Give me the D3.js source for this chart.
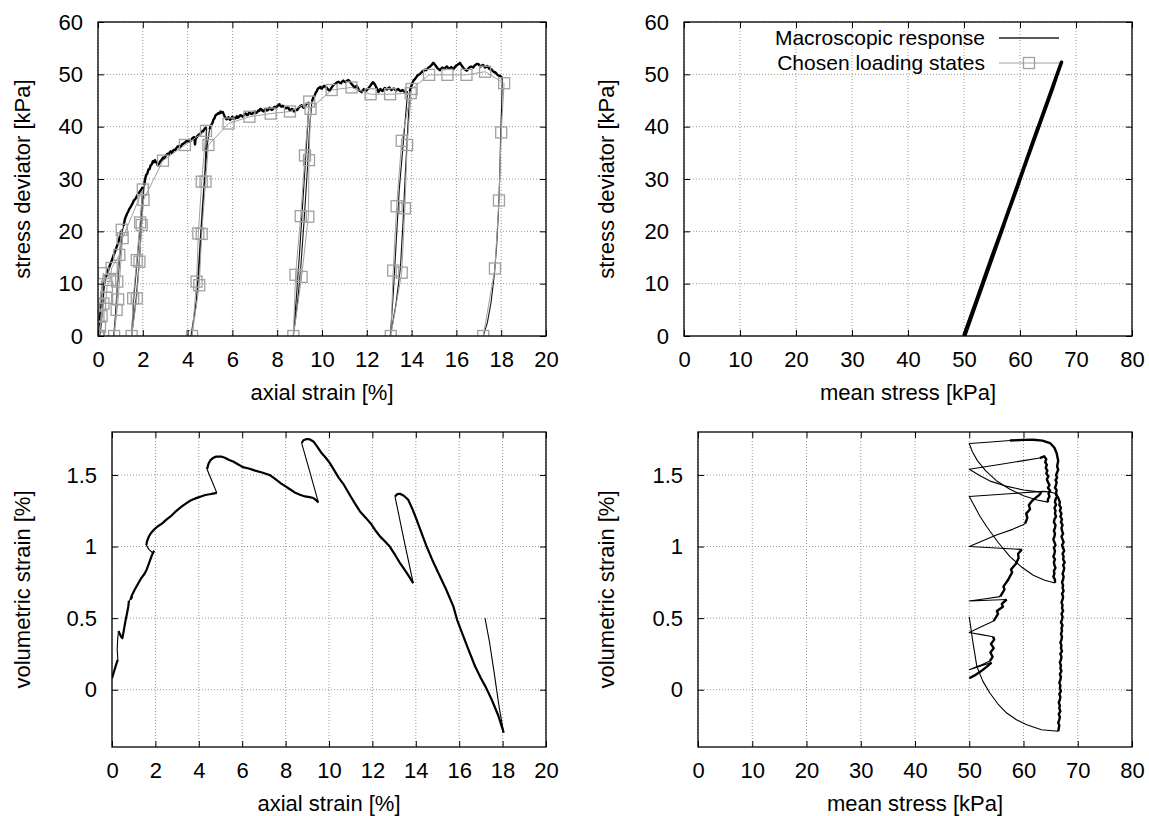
<!DOCTYPE html>
<html>
<head>
<meta charset="utf-8">
<script src="https://cdn.jsdelivr.net/npm/d3@7"></script>
<style>
    body { margin: 0; background: #fff; }
    svg { font-family: "Liberation Sans", Arial, Helvetica, sans-serif; }
</style>
</head>
<body>
<div id="chart"></div>
<script>
// tick values
const strainTicks = [0, 2, 4, 6, 8, 10, 12, 14, 16, 18, 20]
const qTicks = [0, 10, 20, 30, 40, 50, 60]
const pTicks = [0, 10, 20, 30, 40, 50, 60, 70, 80]
const volTicks = [0, 0.5, 1, 1.5]

const legendLabels = ["Macroscopic response", "Chosen loading states"]

// stress deviator [kPa] vs axial strain [%]: loading branches (noisy) and unload/reload cycles
const qStrainLoading = [
    [[0,0],[0.03,2],[0.08,4.5],[0.16,7.5],[0.24,9.6],[0.3,10.6]],
    [[0.36,11.3],[0.42,12.2],[0.48,12.9],[0.54,13.6],[0.6,14.3],[0.65,14.8],[0.7,15.5],[0.76,16.1],[0.82,16.9],[0.88,17.6],[0.94,18.4],[0.98,19.0],[1.04,19.9],[1.08,20.3]],
    [[1.14,21.0],[1.2,22.3],[1.25,22.9],[1.3,23.4],[1.35,23.8],[1.4,24.3],[1.45,24.6],[1.5,25.0],[1.55,25.4],[1.6,25.9],[1.65,26.1],[1.7,26.4],[1.75,26.9],[1.8,27.1],[1.85,27.5],[1.9,27.8],[1.95,28.1],[2.0,28.5]],
    [[2.06,28.8],[2.1,29.9],[2.15,30.8],[2.2,31.0],[2.25,31.8],[2.3,31.9],[2.35,32.6],[2.4,32.8],[2.45,33.4],[2.5,33.2],[2.54,33.6],[2.58,33.3],[2.62,33.1],[2.67,32.6],[2.72,32.9],[2.76,33.2],[2.8,33.5],[2.85,33.7],[2.9,34.1],[2.95,33.9],[3.0,34.3],[3.05,34.6],[3.1,34.8],[3.15,34.6],[3.2,35.1],[3.25,35.3],[3.3,35.0],[3.35,35.4],[3.4,35.6],[3.45,35.5],[3.5,35.9],[3.55,36.2],[3.6,36.3],[3.65,36.0],[3.7,36.2],[3.75,36.6],[3.8,36.7],[3.85,36.9],[3.9,37.0],[3.95,37.3],[4.0,37.2],[4.05,37.5],[4.1,37.1],[4.15,37.4],[4.2,37.7],[4.25,37.9],[4.3,38.0],[4.33,36.6],[4.36,37.8],[4.4,37.9],[4.45,38.3],[4.5,38.5],[4.55,38.4],[4.6,38.9],[4.65,39.1],[4.7,39.2],[4.75,39.5],[4.8,39.8],[4.85,39.6]],
    [[4.98,39.5],[5.05,40.3],[5.1,40.6],[5.15,41.3],[5.2,41.6],[5.25,42.2],[5.3,42.3],[5.37,42.6],[5.42,42.5],[5.47,42.9],[5.52,42.7],[5.57,42.8],[5.62,42.3],[5.65,42.0],[5.7,41.6],[5.75,41.4],[5.82,41.8],[5.9,41.3],[5.95,41.6],[6.0,41.9],[6.05,41.5],[6.1,41.7],[6.15,41.6],[6.2,42.0],[6.25,41.7],[6.3,41.9],[6.35,42.2],[6.4,42.1],[6.45,41.9],[6.5,42.1],[6.55,42.4],[6.6,42.5],[6.65,42.2],[6.7,42.3],[6.75,42.7],[6.8,42.6],[6.85,42.4],[6.9,42.5],[6.95,42.8],[7.0,42.9],[7.05,42.6],[7.1,42.7],[7.15,43.1],[7.2,43.0],[7.25,43.4],[7.3,43.3],[7.35,43.0],[7.4,42.9],[7.45,43.3],[7.5,43.4],[7.55,43.1],[7.6,43.2],[7.65,43.6],[7.7,43.5],[7.75,43.2],[7.8,43.3],[7.85,43.7],[7.9,43.8],[7.95,43.6],[8.0,43.9],[8.05,44.1],[8.1,44.3],[8.15,43.9],[8.2,43.8],[8.25,44.0],[8.3,43.9],[8.35,43.6],[8.4,43.5],[8.45,43.7],[8.5,43.6],[8.55,43.2],[8.6,43.1],[8.65,43.4],[8.7,43.3],[8.75,42.9],[8.8,43.0],[8.85,43.3],[8.9,43.2],[8.95,43.6],[9.0,43.8],[9.05,44.0],[9.1,44.1],[9.15,43.7],[9.2,43.6],[9.25,44.0],[9.3,44.3],[9.36,44.5],[9.42,44.6]],
    [[9.55,44.8],[9.62,45.7],[9.67,45.9],[9.72,46.5],[9.77,46.8],[9.82,47.3],[9.87,47.4],[9.92,47.6],[9.96,47.3],[10.0,47.3],[10.05,47.6],[10.1,47.8],[10.15,47.6],[10.2,47.5],[10.25,47.2],[10.3,47.0],[10.36,46.9],[10.4,47.3],[10.45,47.6],[10.5,47.9],[10.55,48.1],[10.6,48.2],[10.65,48.4],[10.7,48.5],[10.73,48.6],[10.8,48.4],[10.85,48.3],[10.9,48.6],[10.95,48.8],[11.0,48.6],[11.05,48.5],[11.1,48.7],[11.18,48.9],[11.23,48.7],[11.28,48.4],[11.33,48.1],[11.38,47.9],[11.42,47.6],[11.47,47.4],[11.51,47.7],[11.55,47.8],[11.6,47.4],[11.65,47.0],[11.7,46.8],[11.77,46.6],[11.82,46.9],[11.87,47.2],[11.92,47.0],[11.97,46.9],[12.02,47.1],[12.07,47.3],[12.12,47.6],[12.17,47.9],[12.22,48.2],[12.27,48.5],[12.32,48.3],[12.37,48.0],[12.41,47.6],[12.45,47.3],[12.49,46.9],[12.52,46.6],[12.56,46.9],[12.6,47.2],[12.65,47.0],[12.7,46.8],[12.75,47.1],[12.8,47.4],[12.85,47.2],[12.9,47.1],[12.95,47.3],[13.0,47.5],[13.05,47.2],[13.1,47.0],[13.15,47.2],[13.2,47.3],[13.25,47.1],[13.3,46.9],[13.35,47.1],[13.4,47.2],[13.45,47.0],[13.5,46.8],[13.55,46.9],[13.6,47.0],[13.65,46.8],[13.7,46.6],[13.76,46.7],[13.82,46.5]],
    [[13.92,46.8],[13.96,47.4],[14.0,47.9],[14.05,48.5],[14.1,48.9],[14.15,49.1],[14.2,49.4],[14.25,49.7],[14.3,49.9],[14.35,50.0],[14.4,50.2],[14.45,50.4],[14.5,50.6],[14.55,50.7],[14.6,50.9],[14.65,50.8],[14.7,51.0],[14.75,51.3],[14.8,51.4],[14.85,51.6],[14.9,51.8],[14.93,52.0],[14.97,52.2],[15.01,52.0],[15.05,51.8],[15.1,51.5],[15.15,51.2],[15.2,51.0],[15.27,50.8],[15.32,51.1],[15.37,51.3],[15.42,51.2],[15.47,51.0],[15.52,51.3],[15.57,51.5],[15.62,51.3],[15.67,51.1],[15.72,51.2],[15.77,51.4],[15.82,51.2],[15.87,51.0],[15.92,51.3],[15.97,51.6],[16.02,51.7],[16.07,51.9],[16.12,52.0],[16.16,52.2],[16.2,51.9],[16.25,51.6],[16.3,51.3],[16.35,51.0],[16.4,50.9],[16.46,50.7],[16.5,50.9],[16.55,51.2],[16.6,51.4],[16.65,51.5],[16.7,51.4],[16.75,51.3],[16.8,51.6],[16.88,51.9],[16.93,52.0],[16.98,52.0],[17.03,51.7],[17.08,51.5],[17.13,51.6],[17.18,51.8],[17.23,51.6],[17.28,51.3],[17.33,51.4],[17.38,51.6],[17.43,51.3],[17.48,51.0],[17.53,51.0],[17.58,50.9],[17.63,50.6],[17.68,50.4],[17.73,50.4],[17.78,50.2],[17.83,49.9],[17.88,49.8],[17.93,49.7],[17.98,49.6],[18.05,49.3]]
]
const qStrainCycles = [
    [[0.3,10.6],[0.22,6],[0.14,2],[0.08,0],[0.18,5],[0.28,9.5],[0.36,11.3]],
    [[1.08,20.3],[0.95,15],[0.85,9],[0.78,4],[0.7,0],[0.8,5],[0.88,10],[0.98,15.5],[1.1,20.3],[1.14,21.0]],
    [[2.0,28.5],[1.9,22],[1.75,14.5],[1.6,7.5],[1.5,0],[1.7,7],[1.84,14],[1.94,21],[2.02,26.5],[2.06,28.8]],
    [[4.85,39.6],[4.78,32],[4.65,24],[4.5,14],[4.4,7],[4.15,0],[4.35,5],[4.5,12],[4.62,20],[4.75,29],[4.88,36.5],[4.98,39.5]],
    [[9.42,44.6],[9.3,36],[9.15,26],[9.0,16],[8.85,7],[8.72,0],[8.9,6],[9.05,13],[9.2,22],[9.35,32],[9.45,40],[9.55,44.8]],
    [[13.82,46.5],[13.65,38],[13.45,28],[13.3,17],[13.18,8],[13.05,0],[13.3,6],[13.5,13],[13.62,22],[13.72,31],[13.82,39],[13.92,46.8]],
    [[18.05,49.3],[18.02,44],[17.98,38.9],[17.93,30],[17.88,24],[17.8,17.5],[17.7,12],[17.55,6.5],[17.38,2.5],[17.2,0]]
]

// chosen loading states (marked points)
const qStrainChosen = [
    [0,0],[0.02,3.7],[0.09,6],[0.24,12],[0.16,3.8],[0.09,1.8],[0.05,0],
    [0.24,6.2],[0.36,7.3],[0.4,9.4],[0.54,10.7],[0.61,13],[0.95,15.5],[1.06,20.3],
    [0.86,10.4],[0.83,5],[0.72,0],[0.9,7],[1.1,18.7],[2.0,28],
    [1.88,21.7],[1.73,14.5],[1.57,7.2],[1.5,0],
    [1.73,7.2],[1.85,14.2],[1.95,21.2],[2.03,26],[2.9,33.5],[3.88,36.5],[4.82,39.2],
    [4.63,29.5],[4.48,19.6],[4.4,10.4],[4.2,0],
    [4.52,9.7],[4.63,19.5],[4.8,29.5],[4.93,36.5],[5.83,40.6],[6.76,41.9],[7.71,42.5],[8.57,42.9],[9.43,44.8],
    [9.24,34.5],[9.05,22.9],[8.82,11.7],[8.72,0],
    [9.09,11.3],[9.39,22.8],[9.42,33.6],[9.49,43.4],[10.43,47],[11.32,47.5],[12.17,46.2],[13.04,46.2],[13.96,46.4],
    [13.56,37.3],[13.33,24.8],[13.18,12.5],[13.07,0],
    [13.56,12.1],[13.7,24.4],[13.8,36.5],[14.0,47.2],[14.78,49.9],[15.6,49.9],[16.45,49.9],[17.28,50.5],[18.13,48.3],
    [18.0,38.9],[17.9,25.9],[17.72,12.9],[17.2,0]
]

// stress deviator [kPa] vs mean stress [kPa]
const pqResponse = [
    [50,0],[51.5,4.6],[53,9],[54.3,13],[52.2,6.6],[50.1,0.2],[52,5.8],[54.4,13.1],[55.8,17.5],[57.1,21.2],
    [54,11.9],[50.2,0.3],[53,8.8],[56.5,19.4],[59.4,28.3],[55,15],[50,0],[55,15.2],[59.5,28.4],[61.5,34.6],
    [63.2,39.8],[57,21],[50.1,0.1],[56,18],[63.3,39.9],[64.6,43.9],[57,21],[50,0],[57,21.1],[64.7,44.2],
    [65.7,47.1],[58,24],[50,0],[58,24.1],[65.8,47.3],[66.6,49.9],[67.4,52.3],[66.5,49.6],[58,24],[50,0.1]
]

// volumetric strain [%] vs axial strain [%]
const volStrainLoading = [
    [[0,0.08],[0.08,0.12],[0.16,0.16],[0.22,0.19],[0.27,0.21]],
    [[0.3,0.41],[0.36,0.39],[0.42,0.37],[0.48,0.36],[0.55,0.42],[0.62,0.48],[0.7,0.54],[0.75,0.58],[0.78,0.62]],
    [[0.85,0.63],[0.92,0.66],[1.05,0.7],[1.2,0.74],[1.35,0.78],[1.5,0.81],[1.6,0.84],[1.72,0.89],[1.84,0.94],[1.94,0.97]],
    [[1.58,1.01],[1.62,1.04],[1.7,1.07],[1.78,1.09],[1.83,1.1],[1.95,1.12],[2.1,1.14],[2.3,1.16],[2.52,1.19],[2.7,1.21],[2.9,1.24],[3.05,1.26],[3.22,1.28],[3.4,1.3],[3.6,1.32],[3.75,1.33],[3.91,1.34],[4.1,1.35],[4.3,1.36],[4.5,1.365],[4.65,1.37],[4.83,1.375]],
    [[4.38,1.54],[4.45,1.58],[4.55,1.605],[4.65,1.618],[4.8,1.628],[5.03,1.629],[5.2,1.62],[5.4,1.605],[5.58,1.594],[5.8,1.575],[6.03,1.555],[6.3,1.545],[6.6,1.53],[6.95,1.515],[7.26,1.5],[7.5,1.475],[7.8,1.44],[8.0,1.42],[8.2,1.4],[8.45,1.375],[8.66,1.362],[8.9,1.35],[9.1,1.345],[9.28,1.339],[9.4,1.325],[9.51,1.308]],
    [[8.74,1.723],[8.82,1.742],[8.97,1.751],[9.12,1.748],[9.28,1.734],[9.45,1.7],[9.65,1.655],[9.85,1.62],[10.04,1.583],[10.25,1.53],[10.45,1.48],[10.65,1.44],[10.82,1.397],[11.0,1.35],[11.2,1.3],[11.43,1.245],[11.7,1.2],[11.97,1.152],[12.15,1.11],[12.35,1.071],[12.55,1.04],[12.8,1.0],[13.04,0.943],[13.25,0.89],[13.45,0.845],[13.65,0.8],[13.88,0.745]],
    [[13.04,1.35],[13.15,1.366],[13.27,1.369],[13.45,1.355],[13.65,1.327],[13.85,1.26],[14.04,1.187],[14.25,1.1],[14.5,1.0],[14.75,0.91],[15.04,0.815],[15.4,0.7],[15.73,0.582],[15.9,0.49],[16.1,0.41],[16.4,0.29],[16.73,0.164],[17.0,0.08],[17.22,0.02],[17.5,-0.07],[17.8,-0.18],[18.05,-0.3]]
]
const volStrainCycles = [
    [[0.27,0.21],[0.24,0.28],[0.26,0.35],[0.3,0.41]],
    [[0.78,0.62],[0.95,0.645],[0.85,0.63]],
    [[1.94,0.97],[1.88,0.955],[1.7,0.98],[1.58,1.01]],
    [[4.83,1.375],[4.6,1.46],[4.38,1.54]],
    [[9.51,1.308],[9.1,1.53],[8.74,1.723]],
    [[13.88,0.745],[13.45,1.05],[13.04,1.35]],
    [[18.05,-0.3],[17.85,-0.13],[17.6,0.13],[17.4,0.33],[17.19,0.5]]
]

// volumetric strain [%] vs mean stress [kPa]
const volPLoading = [
    [[50,0.08],[51,0.1],[52.2,0.13],[53.2,0.16],[54.1,0.19]],
    [[53.8,0.2],[54.3,0.23],[53.9,0.26],[54.5,0.29],[54,0.32],[54.6,0.35],[54.4,0.37]],
    [[54.5,0.48],[55.3,0.53],[55.1,0.55],[56.2,0.58],[56,0.6],[56.9,0.63]],
    [[55.7,0.65],[56.5,0.7],[56.3,0.72],[57.2,0.77],[57.9,0.82],[57.7,0.84],[58.6,0.88],[59.1,0.92],[59,0.95],[59.7,0.98]],
    [[60.3,1.16],[60.7,1.2],[60.5,1.23],[61.2,1.26],[61,1.29],[61.6,1.32],[62.4,1.345],[62.9,1.36],[63.3,1.38]],
    [[63,1.618],[63.8,1.63],[64.2,1.61],[64,1.59],[64.3,1.57],[64.1,1.55],[64.4,1.53],[64.2,1.51],[64.6,1.49],[64.3,1.47],[64.5,1.45],[64.8,1.43],[64.5,1.41],[64.9,1.39],[64.6,1.37],[64.8,1.35],[64.5,1.33],[64.5,1.31]],
    [[57.5,1.741],[60,1.745],[61.8,1.746],[63.5,1.74],[64.9,1.723],[65.7,1.69],[66.1,1.653],[66.4,1.6],[66.2,1.56],[66.4,1.536],[66,1.5],[66.2,1.48],[65.9,1.465],[66.1,1.45],[66,1.43],[65.8,1.41],[66.1,1.395],[66,1.37],[66.2,1.35],[65.9,1.33],[65.8,1.31],[66,1.29],[65.7,1.27],[65.9,1.25],[65.8,1.23],[66,1.21],[65.7,1.19],[65.6,1.17],[65.9,1.15],[65.8,1.13],[65.6,1.11],[65.8,1.09],[65.7,1.07],[65.5,1.05],[65.7,1.03],[65.9,1.01],[65.6,0.99],[65.8,0.97],[65.7,0.95],[65.5,0.93],[65.8,0.91],[65.6,0.89],[65.7,0.87],[65.9,0.85],[65.6,0.83],[65.7,0.81],[65.5,0.79],[65.8,0.77],[65.8,0.745]],
    [[65.9,1.37],[66.4,1.34],[66.7,1.31],[66.6,1.29],[66.9,1.27],[66.7,1.25],[67,1.23],[66.8,1.21],[67.1,1.19],[66.9,1.17],[67.2,1.15],[67,1.13],[67.1,1.11],[67.3,1.09],[67,1.07],[67.2,1.05],[67.4,1.03],[67.1,1.01],[67.3,0.99],[67.5,0.97],[67.2,0.95],[67.4,0.93],[67.3,0.91],[67.6,0.89],[67.3,0.87],[67.5,0.85],[67.4,0.83],[67.2,0.81],[67.4,0.79],[67.3,0.77],[67.1,0.75],[67.3,0.73],[67.2,0.71],[67.4,0.69],[67.1,0.67],[67.3,0.65],[67.2,0.63],[67,0.61],[67.2,0.59],[67.1,0.57],[67.3,0.55],[67,0.53],[67.2,0.51],[67.1,0.49],[66.9,0.47],[67.2,0.45],[67,0.43],[67.1,0.41],[66.9,0.39],[67.1,0.37],[67,0.35],[66.8,0.33],[67,0.31],[66.9,0.29],[67.1,0.27],[66.8,0.25],[67,0.23],[66.9,0.21],[66.7,0.19],[66.9,0.17],[66.8,0.15],[67,0.13],[66.7,0.11],[66.9,0.09],[66.8,0.07],[66.6,0.05],[66.8,0.03],[66.7,0.01],[66.9,-0.01],[66.6,-0.03],[66.8,-0.05],[66.7,-0.07],[66.5,-0.09],[66.7,-0.11],[66.6,-0.13],[66.8,-0.15],[66.5,-0.17],[66.7,-0.19],[66.6,-0.21],[66.4,-0.23],[66.6,-0.25],[66.5,-0.27],[66.4,-0.29]]
]
const volPCycles = [
    [[54.1,0.19],[52,0.165],[50,0.14],[52,0.17],[53.8,0.2]],
    [[54.4,0.37],[52.2,0.385],[50,0.4],[52.2,0.44],[54.5,0.48]],
    [[56.9,0.63],[53.5,0.625],[50,0.62],[53,0.635],[55.7,0.65]],
    [[59.7,0.98],[55,0.99],[50,1.0],[55,1.08],[58,1.12],[60.3,1.16]],
    [[63.3,1.38],[60,1.395],[57,1.42],[54,1.455],[52,1.495],[50,1.54],[55,1.57],[60,1.6],[63,1.618]],
    [[64.5,1.31],[62.5,1.325],[60,1.355],[57.5,1.4],[55,1.46],[53,1.53],[51.5,1.6],[50.6,1.66],[50,1.72],[54,1.73],[57.5,1.741]],
    [[65.8,0.745],[63.9,0.765],[61.8,0.8],[59.7,0.855],[57.5,0.93],[55.3,1.03],[53.2,1.14],[52,1.21],[51,1.28],[50,1.35],[54,1.36],[58,1.37],[61.5,1.38],[63.7,1.385],[65,1.38],[65.9,1.37]],
    [[66.4,-0.29],[63.3,-0.28],[60.6,-0.244],[58.7,-0.21],[56.9,-0.163],[55.3,-0.1],[53.8,-0.023],[52.5,0.06],[51.4,0.163],[50.6,0.35],[50,0.51]]
]

const fontSize = 22
const gridColor = "#999"
const chosenColor = "#a0a0a0"

const svg = d3.select("#chart")
    .append("svg")
        .attr("width", 1149)
        .attr("height", 816)

const makePanel = (box, xDomain, yDomain, xTicks, yTicks, xLabel, yLabel, yLabelX, id) => {
    const x = d3.scaleLinear().domain(xDomain).range([box.left, box.right])
    const y = d3.scaleLinear().domain(yDomain).range([box.bottom, box.top])
    const w = box.right - box.left
    const h = box.bottom - box.top
    const fmt = d3.format("~g")

    svg.append("clipPath").attr("id", `clip-${id}`)
        .append("rect")
            .attr("x", box.left).attr("y", box.top)
            .attr("width", w).attr("height", h)

    // dotted grid
    const grid = svg.append("g")
        .attr("stroke", gridColor)
        .attr("stroke-width", 1)
        .attr("stroke-dasharray", "1,2")
    grid.selectAll(".gx").data(xTicks).join("line")
        .attr("x1", d => x(d)).attr("x2", d => x(d))
        .attr("y1", box.top).attr("y2", box.bottom)
    grid.selectAll(".gy").data(yTicks).join("line")
        .attr("x1", box.left).attr("x2", box.right)
        .attr("y1", d => y(d)).attr("y2", d => y(d))

    const plot = svg.append("g").attr("clip-path", `url(#clip-${id})`)
    const frame = svg.append("g")

    const style = sel => sel
        .attr("font-family", null)
        .attr("font-size", fontSize)
        .call(s => s.select(".domain").remove())
        .call(s => s.selectAll(".tick line").attr("stroke", "#000").attr("stroke-width", 1))

    frame.append("g")
        .attr("transform", `translate(0, ${box.bottom})`)
        .call(d3.axisBottom(x).tickValues(xTicks).tickFormat(fmt).tickSize(-6).tickPadding(15))
        .call(style)
    frame.append("g")
        .attr("transform", `translate(0, ${box.top})`)
        .call(d3.axisTop(x).tickValues(xTicks).tickFormat("").tickSize(-6))
        .call(style)
    frame.append("g")
        .attr("transform", `translate(${box.left}, 0)`)
        .call(d3.axisLeft(y).tickValues(yTicks).tickFormat(fmt).tickSize(-6).tickPadding(15))
        .call(style)
    frame.append("g")
        .attr("transform", `translate(${box.right}, 0)`)
        .call(d3.axisRight(y).tickValues(yTicks).tickFormat("").tickSize(-6))
        .call(style)

    frame.append("rect")
        .attr("x", box.left).attr("y", box.top)
        .attr("width", w).attr("height", h)
        .attr("fill", "none")
        .attr("stroke", "#000")
        .attr("stroke-width", 1.3)

    frame.append("text")
        .attr("x", (box.left + box.right) / 2)
        .attr("y", box.bottom + 64)
        .attr("text-anchor", "middle")
        .attr("font-size", fontSize)
        .text(xLabel)

    frame.append("text")
        .attr("transform", `translate(${yLabelX}, ${(box.top + box.bottom) / 2}) rotate(-90)`)
        .attr("text-anchor", "middle")
        .attr("dy", "0.35em")
        .attr("font-size", fontSize)
        .text(yLabel)

    return {x, y, plot, frame}
}

const drawLines = (panel, segments, width, color) => {
    const line = d3.line().x(d => panel.x(d[0])).y(d => panel.y(d[1]))
    panel.plot.append("g")
        .selectAll("path")
        .data(segments)
        .join("path")
            .attr("d", line)
            .attr("fill", "none")
            .attr("stroke", color)
            .attr("stroke-width", width)
            .attr("stroke-linejoin", "round")
}

// top left: deviator vs axial strain
const tl = makePanel({left: 98, top: 22, right: 546, bottom: 336}, [0, 20], [0, 60],
    strainTicks, qTicks, "axial strain [%]", "stress deviator [kPa]", 22, "tl")
drawLines(tl, qStrainLoading, 2.4, "#000")
drawLines(tl, qStrainCycles, 1.1, "#111")
drawLines(tl, [qStrainChosen], 1, chosenColor)
tl.plot.append("g")
    .selectAll("rect")
    .data(qStrainChosen)
    .join("rect")
        .attr("x", d => tl.x(d[0]) - 5.5)
        .attr("y", d => tl.y(d[1]) - 5.5)
        .attr("width", 11)
        .attr("height", 11)
        .attr("fill", "none")
        .attr("stroke", chosenColor)
        .attr("stroke-width", 1.3)

// top right: deviator vs mean stress
const tr = makePanel({left: 684, top: 22, right: 1132, bottom: 336}, [0, 80], [0, 60],
    pTicks, qTicks, "mean stress [kPa]", "stress deviator [kPa]", 606, "tr")
drawLines(tr, [pqResponse], 3.6, "#000")

// legend
const legend = tr.frame.append("g")
const legendY = [38, 63]
legend.selectAll("text")
    .data(legendLabels)
    .join("text")
        .attr("x", 985)
        .attr("y", (d, i) => legendY[i])
        .attr("dy", "0.35em")
        .attr("text-anchor", "end")
        .attr("font-size", 21)
        .text(d => d)
legend.append("line")
    .attr("x1", 999).attr("x2", 1059)
    .attr("y1", legendY[0]).attr("y2", legendY[0])
    .attr("stroke", "#222").attr("stroke-width", 1.4)
legend.append("line")
    .attr("x1", 999).attr("x2", 1059)
    .attr("y1", legendY[1]).attr("y2", legendY[1])
    .attr("stroke", chosenColor).attr("stroke-width", 1)
legend.append("rect")
    .attr("x", 1029 - 5.5).attr("y", legendY[1] - 5.5)
    .attr("width", 11).attr("height", 11)
    .attr("fill", "none")
    .attr("stroke", chosenColor).attr("stroke-width", 1.3)

// bottom left: volumetric strain vs axial strain
const bl = makePanel({left: 112, top: 432, right: 546, bottom: 747}, [0, 20], [-0.4, 1.8],
    strainTicks, volTicks, "axial strain [%]", "volumetric strain [%]", 22, "bl")
drawLines(bl, volStrainLoading, 2.2, "#000")
drawLines(bl, volStrainCycles, 1.1, "#000")

// bottom right: volumetric strain vs mean stress
const br = makePanel({left: 698, top: 432, right: 1132, bottom: 747}, [0, 80], [-0.4, 1.8],
    pTicks, volTicks, "mean stress [kPa]", "volumetric strain [%]", 606, "br")
drawLines(br, volPLoading, 2.4, "#000")
drawLines(br, volPCycles, 1.1, "#000")
</script>
</body>
</html>
